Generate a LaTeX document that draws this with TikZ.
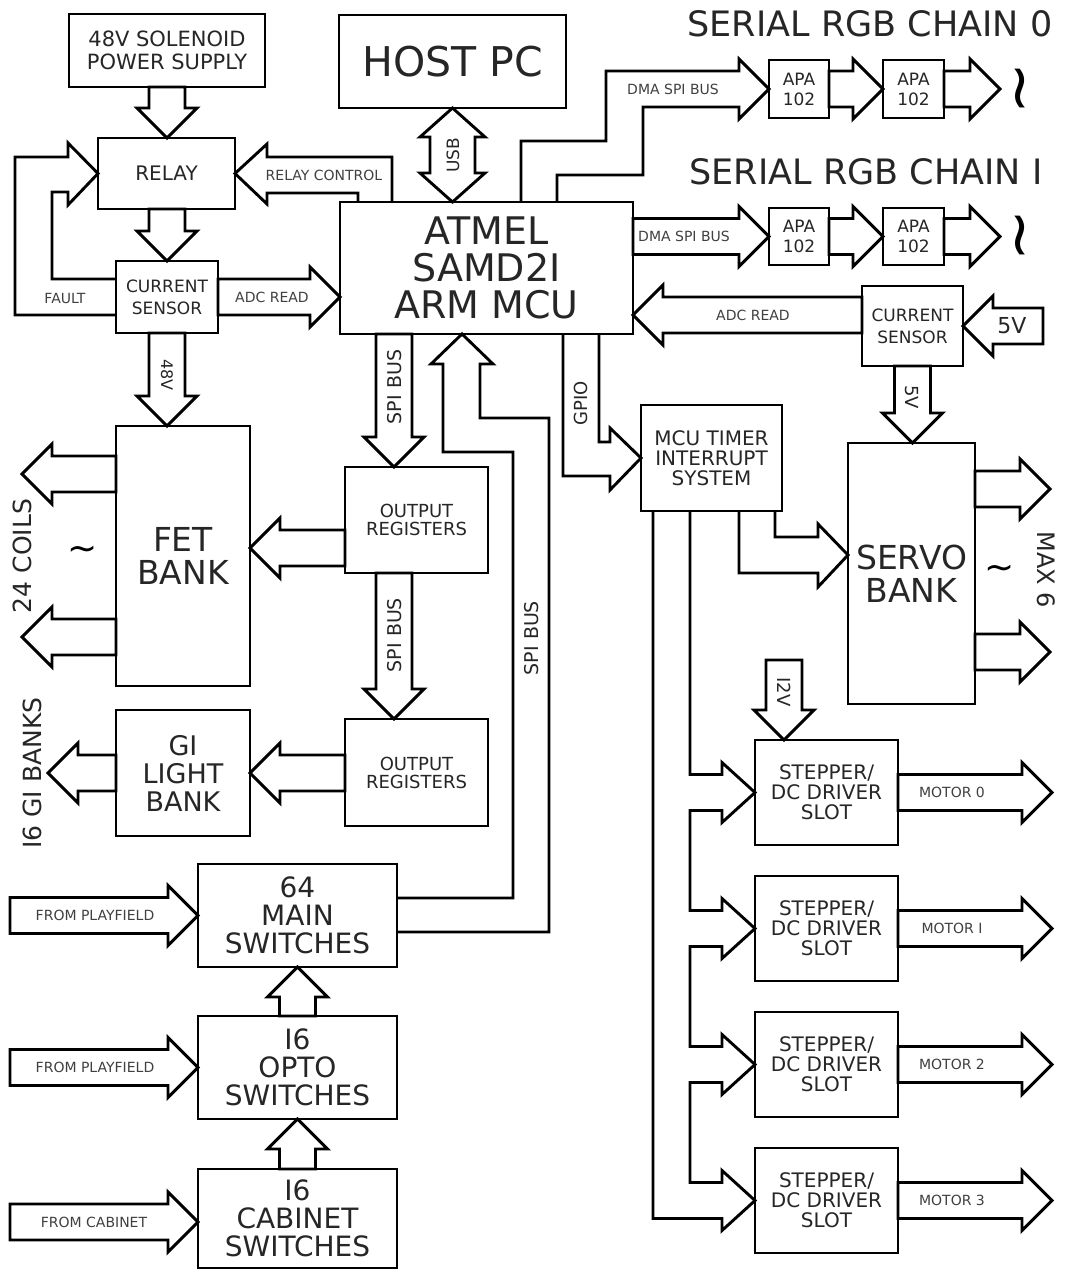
\documentclass[tikz,border=0pt]{standalone}
\usepackage{fontspec}
\setmainfont{DejaVu Sans}
\usetikzlibrary{calc}
\newcommand\fs[2]{\fontsize{#1}{#2}\selectfont}
\def\ash{18pt}\def\ahh{30pt}\def\ahl{30pt}
\tikzset{
 box/.style={draw, line width=2.9pt, inner sep=0pt, outer sep=0pt, align=center},
 fat/.style={draw, line width=2.9pt, line join=miter},
 lbl/.style={inner sep=0pt, text=black!75, font=\fs{14}{16}},
 every node/.append style={text=black!85},
}
% box: [style]{name}{x1}{y1}{x2}{y2}{text}
\newcommand\bx[7][]{\node[box,minimum width={(#5)-(#3)},minimum height={(#6)-(#4)},#1] (#2) at ({((#3)+(#5))/2},{((#4)+(#6))/2}) {#7};}
% straight fat arrows: {tail}{tip}
\newcommand\fdown[2]{\draw[fat] let \p1=#1, \p2=#2 in (\x2-\ash,\y1) -- (\x2-\ash,\y2+\ahl) -- (\x2-\ahh,\y2+\ahl) -- (\x2,\y2) -- (\x2+\ahh,\y2+\ahl) -- (\x2+\ash,\y2+\ahl) -- (\x2+\ash,\y1) -- cycle;}
\newcommand\fup[2]{\draw[fat] let \p1=#1, \p2=#2 in (\x2-\ash,\y1) -- (\x2-\ash,\y2-\ahl) -- (\x2-\ahh,\y2-\ahl) -- (\x2,\y2) -- (\x2+\ahh,\y2-\ahl) -- (\x2+\ash,\y2-\ahl) -- (\x2+\ash,\y1) -- cycle;}
\newcommand\fright[2]{\draw[fat] let \p1=#1, \p2=#2 in (\x1,\y2+\ash) -- (\x2-\ahl,\y2+\ash) -- (\x2-\ahl,\y2+\ahh) -- (\x2,\y2) -- (\x2-\ahl,\y2-\ahh) -- (\x2-\ahl,\y2-\ash) -- (\x1,\y2-\ash) -- cycle;}
\newcommand\fleft[2]{\draw[fat] let \p1=#1, \p2=#2 in (\x1,\y2+\ash) -- (\x2+\ahl,\y2+\ash) -- (\x2+\ahl,\y2+\ahh) -- (\x2,\y2) -- (\x2+\ahl,\y2-\ahh) -- (\x2+\ahl,\y2-\ash) -- (\x1,\y2-\ash) -- cycle;}
\begin{document}
\begin{tikzpicture}[x=1pt,y=-1pt]
\fill[white] (0,0) rectangle (1070,1270);
\useasboundingbox (0,0) rectangle (1070,1270);

% ---------- boxes ----------
\bx[font=\fs{21}{23}]{ps}{69}{14}{265}{87}{48V SOLENOID\\POWER SUPPLY}
\bx[font=\fs{41}{41}]{host}{339}{15}{566}{108}{HOST PC}
\bx[font=\fs{20}{20}]{relay}{98}{138}{235}{209}{RELAY}
\bx[font=\fs{17}{22}]{cs1}{116}{261}{218}{333}{CURRENT\\SENSOR}
\bx[font=\fs{38}{37}]{mcu}{340}{202}{633}{334}{ATMEL\\SAMD2I\\ARM MCU}
\bx[font=\fs{17}{20}]{apa0a}{769}{60}{829}{118}{APA\\102}
\bx[font=\fs{17}{20}]{apa0b}{883}{60}{944}{118}{APA\\102}
\bx[font=\fs{17}{20}]{apa1a}{769}{208}{829}{265}{APA\\102}
\bx[font=\fs{17}{20}]{apa1b}{883}{208}{944}{265}{APA\\102}
\bx[font=\fs{17}{22}]{cs2}{862}{286}{963}{366}{CURRENT\\SENSOR}
\bx[font=\fs{33}{33}]{fet}{116}{426}{250}{686}{FET\\BANK}
\bx[font=\fs{18}{18}]{or1}{345}{467}{488}{573}{OUTPUT\\REGISTERS}
\bx[font=\fs{18}{18}]{or2}{345}{719}{488}{826}{OUTPUT\\REGISTERS}
\bx[font=\fs{20}{20}]{timer}{641}{405}{782}{511}{MCU TIMER\\INTERRUPT\\SYSTEM}
\bx[font=\fs{33}{33}]{servo}{848}{443}{975}{704}{SERVO\\BANK}
\bx[font=\fs{27}{28}]{gi}{116}{710}{250}{836}{GI\\LIGHT\\BANK}
\bx[font=\fs{28}{28}]{main}{198}{864}{397}{967}{64\\MAIN\\SWITCHES}
\bx[font=\fs{28}{28}]{opto}{198}{1016}{397}{1119}{I6\\OPTO\\SWITCHES}
\bx[font=\fs{28}{28}]{cab}{198}{1169}{397}{1268}{I6\\CABINET\\SWITCHES}
\bx[font=\fs{20}{20}]{st0}{755}{740}{898}{845}{STEPPER/\\DC DRIVER\\SLOT}
\bx[font=\fs{20}{20}]{st1}{755}{876}{898}{981}{STEPPER/\\DC DRIVER\\SLOT}
\bx[font=\fs{20}{20}]{st2}{755}{1012}{898}{1117}{STEPPER/\\DC DRIVER\\SLOT}
\bx[font=\fs{20}{20}]{st3}{755}{1148}{898}{1253}{STEPPER/\\DC DRIVER\\SLOT}

% ---------- helper coordinates ----------
\coordinate (spix) at (394,0);
\coordinate (or1y) at (0,548);
\coordinate (adcy) at (0,315);
\coordinate (o0) at (1000,89);
\coordinate (o1) at (1000,236.5);
\coordinate (f1) at (22,474);
\coordinate (f2) at (22,637);
\coordinate (s1) at (1050,489);
\coordinate (s2) at (1050,652);
\coordinate (g1) at (48,773);
\coordinate (p1) at (10,0);
\coordinate (p3) at (10,1222);
\coordinate (v12) at (784,660);
\coordinate (v5) at (1043,326);
\coordinate (m0) at (1052,792.5);
\coordinate (m1) at (1052,928.5);
\coordinate (m2) at (1052,1064.5);
\coordinate (m3) at (1052,1200.5);

% ---------- straight fat arrows ----------
\fdown{(ps.south)}{(ps.south |- relay.north)}
\fdown{(relay.south)}{(cs1.north)}
\fdown{(cs1.south)}{(cs1.south |- fet.north)}
\fright{(cs1.east)}{(mcu.west |- cs1.east)}
\fdown{(mcu.south -| spix)}{(or1.north -| spix)}
\fdown{(or1.south -| spix)}{(or2.north -| spix)}
\fleft{(or1.west |- or1y)}{(fet.east |- or1y)}
\fleft{(or2.west)}{(gi.east)}
\fleft{(gi.west)}{(g1)}
\fleft{(fet.west |- f1)}{(f1)}
\fleft{(fet.west |- f2)}{(f2)}
\fright{(p1)}{(main.west)}
\fright{(p1)}{(opto.west)}
\fright{(p3)}{(cab.west |- p3)}
\fup{(opto.north)}{(main.south)}
\fup{(cab.north)}{(opto.south)}
\fright{(apa0a.east)}{(apa0b.west)}
\fright{(apa0b.east)}{(o0)}
\fright{(mcu.east |- apa1a.west)}{(apa1a.west)}
\fright{(apa1a.east)}{(apa1b.west)}
\fright{(apa1b.east)}{(o1)}
\fleft{(cs2.west |- adcy)}{(mcu.east |- adcy)}
\fleft{(v5)}{(cs2.east)}
\fdown{(cs2.south)}{(cs2.south |- servo.north)}
\fright{(servo.east |- s1)}{(s1)}
\fright{(servo.east |- s2)}{(s2)}
\fdown{(v12)}{(st0.north -| v12)}
\fright{(st0.east)}{(m0)}
\fright{(st1.east)}{(m1)}
\fright{(st2.east)}{(m2)}
\fright{(st3.east)}{(m3)}

% USB double arrow
\draw[fat] (host.south) -- (485,137) -- (475,137) -- (475,173) -- (485,173) -- (mcu.north -| host.south) -- (420,173) -- (430,173) -- (430,137) -- (420,137) -- cycle;

% ---------- bent fat arrows ----------
% fault
\draw[fat] (116,315) -- (15,315) -- (15,157) -- (68,157) -- (68,143) -- (relay.west) -- (68,205) -- (68,192) -- (52,192) -- (52,279) -- (116,279);
% relay control
\draw[fat] (392,202) -- (392,157) -- (267,157) -- (267,144) -- (relay.east) -- (267,204) -- (267,193) -- (358,193) -- (358,202);
% DMA SPI bus chain 0
\draw[fat] (521,202) -- (521,141) -- (606,141) -- (606,71) -- (739,71) -- (739,59) -- (apa0a.west) -- (739,119) -- (739,107) -- (643,107) -- (643,175) -- (557,175) -- (557,202);
% GPIO
\draw[fat] (563,334) -- (563,476) -- (610,476) -- (610,490) -- (timer.west) -- (610,428) -- (610,442) -- (599,442) -- (599,334);
% timer -> servo
\draw[fat] (739,511) -- (739,573) -- (818,573) -- (818,587) -- (848,555) -- (818,524) -- (818,537) -- (775,537) -- (775,511);
% SPI bus return: switches -> MCU
\draw[fat] (397,932) -- (549,932) -- (549,418) -- (480,418) -- (480,364) -- (493,364) -- (462,334) -- (431,364) -- (443,364) -- (443,452) -- (513,452) -- (513,898) -- (397,898);
% timer -> stepper slots
\draw[fat] (690,511) -- (690,774.5) -- (722,774.5) -- (722,762.5) -- (st0.west) -- (722,822.5) -- (722,810.5) -- (690,810.5)
 -- (690,910.5) -- (722,910.5) -- (722,898.5) -- (st1.west) -- (722,958.5) -- (722,946.5) -- (690,946.5)
 -- (690,1046.5) -- (722,1046.5) -- (722,1034.5) -- (st2.west) -- (722,1094.5) -- (722,1082.5) -- (690,1082.5)
 -- (690,1182.5) -- (722,1182.5) -- (722,1170.5) -- (st3.west) -- (722,1230.5) -- (722,1218.5) -- (653,1218.5) -- (653,511);

% ---------- labels ----------
\node[lbl] at (324,175) {RELAY CONTROL};
\node[lbl] at (65,298) {FAULT};
\node[lbl] at (272,297) {ADC READ};
\node[lbl] at (753,315) {ADC READ};
\node[lbl] at (673,89) {DMA SPI BUS};
\node[lbl] at (684,236.5) {DMA SPI BUS};
\node[lbl] at (952,792.5) {MOTOR 0};
\node[lbl] at (952,928.5) {MOTOR I};
\node[lbl] at (952,1064.5) {MOTOR 2};
\node[lbl] at (952,1200.5) {MOTOR 3};
\node[lbl] at (95,915.5) {FROM PLAYFIELD};
\node[lbl] at (95,1067.5) {FROM PLAYFIELD};
\node[lbl] at (94,1222) {FROM CABINET};

\node[rotate=90,font=\fs{17}{17}] at (453,155) {USB};
\node[rotate=-90,font=\fs{16}{16}] at (167,375) {48V};
\node[rotate=90,font=\fs{19}{19}] at (395,387) {SPI BUS};
\node[rotate=90,font=\fs{19}{19}] at (395,635) {SPI BUS};
\node[rotate=90,font=\fs{19}{19}] at (532,638) {SPI BUS};
\node[rotate=90,font=\fs{18}{18}] at (581,403) {GPIO};
\node[rotate=-90,font=\fs{18}{18}] at (912,397) {5V};
\node[rotate=-90,font=\fs{18}{18}] at (784,692) {I2V};
\node[font=\fs{22}{22}] at (1012,326) {5V};

\node[rotate=90,font=\fs{25}{25}] at (22,556) {24 COILS};
\node[rotate=90,font=\fs{25}{25}] at (32,773) {I6 GI BANKS};
\node[rotate=-90,font=\fs{24}{24}] at (1046,570) {MAX 6};

\node[font=\fs{35}{35}] at (870,24) {SERIAL RGB CHAIN 0};
\node[font=\fs{35}{35}] at (866,172) {SERIAL RGB CHAIN I};

\node[font=\fs{36}{36},text=black] at (83,553) {\textasciitilde};
\node[font=\fs{36}{36},text=black] at (1000,572) {\textasciitilde};
\node[rotate=90,font=\fs{62}{62},text=black] at (1027,89) {\textasciitilde};
\node[rotate=90,font=\fs{62}{62},text=black] at (1027,236) {\textasciitilde};
\end{tikzpicture}
\end{document}
